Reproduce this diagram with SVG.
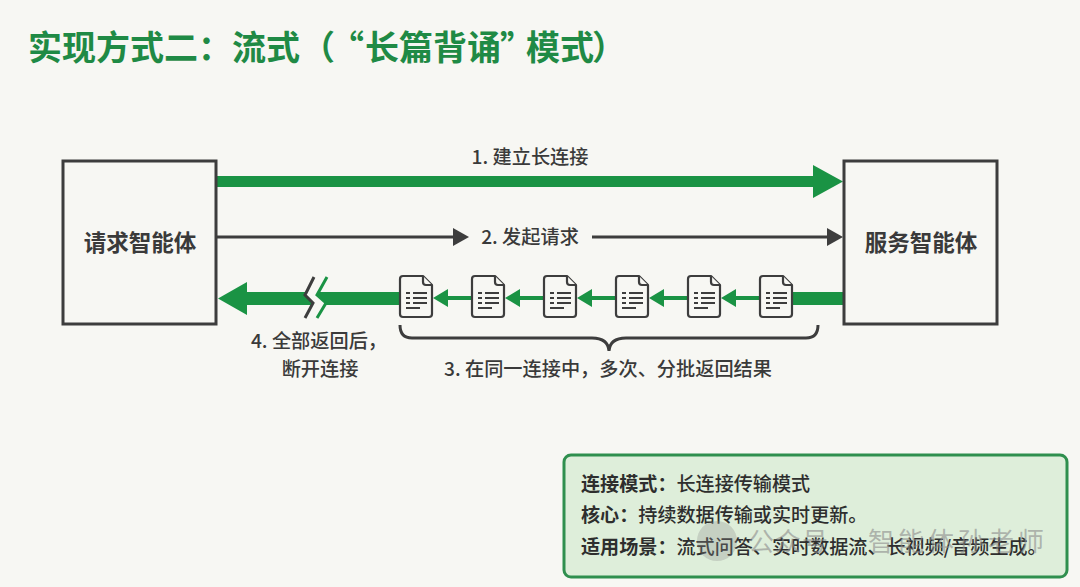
<svg xmlns="http://www.w3.org/2000/svg" xmlns:xlink="http://www.w3.org/1999/xlink" width="1080" height="587" viewBox="0 0 1080 587">
<style>
text{font-family:"Noto Sans CJK SC","Liberation Sans",sans-serif;fill:#3a3a3a}
.t{font-size:34px;font-weight:700;fill:#1f8a45}
.n{font-size:22.500px;font-weight:700;text-anchor:middle}
.l{font-size:19.200px;text-anchor:middle;font-weight:500}
.b{font-size:19.100px;fill:#2e2e2e;font-weight:500}
.bb{font-weight:700}
.box{fill:#f7f7f3;stroke:#3d3d3d;stroke-width:3}
.g{fill:#1a9344}
.d{fill:#3d3d3d}
.line{stroke:#3d3d3d;stroke-width:3;fill:none}
.doc{fill:#f7f7f3;stroke:#3d3d3d;stroke-width:2.200;stroke-linejoin:round}
.dl{stroke:#3d3d3d;stroke-width:2;fill:none}
.wm{font-size:26px;fill:#8c8c8c;fill-opacity:.6;font-weight:400}
</style>
<defs>
<g id="doc">
<path class="doc" d="M-13-21H7L16-12V17Q16 20 13 20H-13Q-16 20-16 17V-18Q-16-21-13-21Z"/>
<path class="doc" d="M7-21V-15Q7-12 10-12H16" fill="none"/>
<path class="dl" d="M-3-4H11M-3 1H11M-3 6H11M-10-4H-6M-10 1H-6M-10 6H-6M-10 11H4"/>
</g>
</defs>
<rect width="1080" height="587" fill="#f7f7f3"/>
<text class="t" x="28" y="60">实现方式二：流式<tspan x="301">（</tspan><tspan x="330">“</tspan><tspan x="365">长篇背诵</tspan><tspan x="500">”</tspan><tspan x="526">模式</tspan><tspan x="592">）</tspan></text>
<g id="connectors">
<path class="g" d="M217 176H813V165L843 181.500L813 198V187H217Z"/>
<path class="line" d="M217 237H455"/><path class="d" d="M453 228L469 237L453 246Z"/>
<path class="line" d="M592 237H830"/><path class="d" d="M827 228L843 237L827 246Z"/>
<path class="g" d="M843 292V305H792V292Z"/>
<path class="g" d="M218 298.500L247 282V292H400V305H247V315Z"/>
<path class="g" d="M433 298L448 289V296H471V300H448V307Z"/>
<path class="g" d="M505 298L520 289V296H543V300H520V307Z"/>
<path class="g" d="M577 298L592 289V296H615V300H592V307Z"/>
<path class="g" d="M649 298L664 289V296H687V300H664V307Z"/>
<path class="g" d="M721 298L736 289V296H759V300H736V307Z"/>
<path d="M314 277L305 295L313 303L305 318H317L326 303L317 295L327 277Z" fill="#f7f7f3"/>
<path d="M314 277L305 295L313 303L305 318" fill="none" stroke="#3d3d3d" stroke-width="3"/>
<path d="M327 277L317 295L326 303L317 318" fill="none" stroke="#1a9344" stroke-width="3"/>
<path class="line" d="M400 325Q400 338 412 338H592Q608 338 609 351Q610 338 626 338H806Q818 338 818 325"/>
</g>
<g id="agent-client"><rect class="box" x="63" y="161" width="153" height="163"/><text class="n" x="140" y="251">请求智能体</text></g>
<g id="agent-server"><rect class="box" x="844" y="161" width="153" height="163"/><text class="n" x="921" y="251">服务智能体</text></g>
<g id="docs">
<use xlink:href="#doc" href="#doc" x="416" y="297"/>
<use xlink:href="#doc" href="#doc" x="488" y="297"/>
<use xlink:href="#doc" href="#doc" x="560" y="297"/>
<use xlink:href="#doc" href="#doc" x="632" y="297"/>
<use xlink:href="#doc" href="#doc" x="704" y="297"/>
<use xlink:href="#doc" href="#doc" x="776" y="297"/>
</g>
<g id="labels">
<text class="l" x="530" y="164">1. 建立长连接</text>
<text class="l" x="530" y="244">2. 发起请求</text>
<text class="l" x="319" y="348">4. 全部返回后，</text>
<text class="l" x="320" y="376">断开连接</text>
<text class="l" x="608" y="376">3. 在同一连接中，多次、分批返回结果</text>
</g>
<g id="note">
<rect x="564" y="455" width="503" height="122" rx="7" fill="#deeeda" stroke="#2f8f4e" stroke-width="3"/>
<text class="b" x="581" y="491"><tspan class="bb">连接模式：</tspan>长连接传输模式</text>
<text class="b" x="581" y="522"><tspan class="bb">核心：</tspan>持续数据传输或实时更新。</text>
<text class="b" x="581" y="554"><tspan class="bb">适用场景：</tspan>流式问答、实时数据流、长视频/音频生成。</text>
</g>
<g id="watermark">
<circle cx="717" cy="541" r="20" fill="#8c8c8c" fill-opacity=".3"/>
<text class="wm" x="748" y="551" letter-spacing="1">公众号</text>
<text class="wm" x="868" y="551" letter-spacing="4">智能体孙老师</text>
</g>
</svg>
